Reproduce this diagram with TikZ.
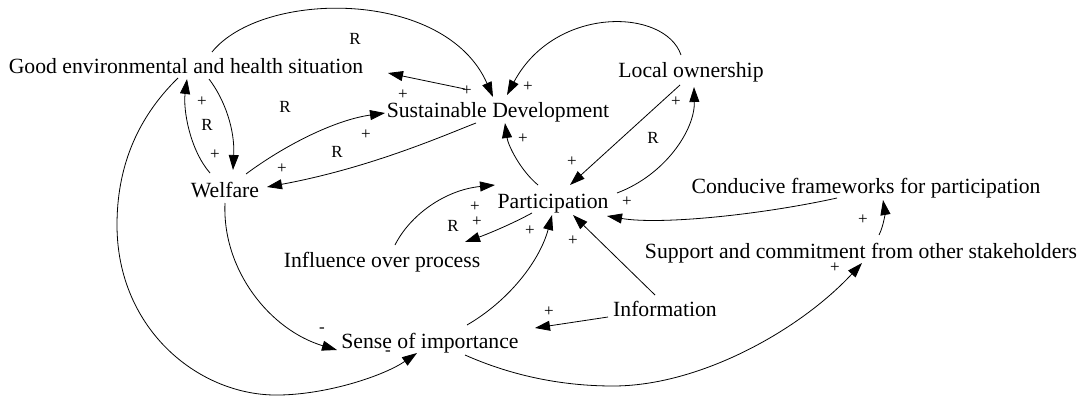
\documentclass[tikz,border=0pt]{standalone}
\usepackage{fontspec}
\setmainfont{Liberation Serif}
\newfontfamily\tnr{Liberation Serif}
\usetikzlibrary{arrows.meta,calc}
\begin{document}
\begin{tikzpicture}[x=1pt,y=-1pt,
  var/.style={anchor=base,inner sep=0pt,font=\tnr\fontsize{21.7}{26}\selectfont},
  pol/.style={inner sep=0pt,font=\tnr\fontsize{17}{20}\selectfont},
  link/.style={line width=0.8pt,-{Triangle[length=15pt,width=10pt]}}]
\useasboundingbox (0,0) rectangle (1082,399);
% variables
\node[var] (good) at (186,73) {Good environmental and health situation};
\node[var] (sd) at (498,117) {Sustainable Development};
\node[var] (lo) at (691,77) {Local ownership};
\node[var] (wel) at (225,197) {Welfare};
\node[var] (par) at (553,208) {Participation};
\node[var] (cond) at (866,193) {Conducive frameworks for participation};
\node[var] (sup) at (861,258) {Support and commitment from other stakeholders};
\node[var] (inf) at (382,267) {Influence over process};
\node[var] (info) at (665,316) {Information};
\node[var] (sen) at (430,348) {Sense of importance};
% links
\draw[link] ($(good.base)+(26,-21)$) .. controls +(50,-62) and +(-48,-109) .. ($(sd.base)+(-5,-20)$);
\draw[link] ($(sd.base)+(-33,-28)$) -- ($(good.base)+(202,0)$);
\draw[link] ($(lo.base)+(-10,-22)$) .. controls +(-16,-47) and +(48,-90) .. ($(sd.base)+(9,-22)$);
\draw[link] ($(lo.base)+(-11,8)$) -- ($(par.base)+(17,-23)$);
\draw[link] ($(par.base)+(64,-15)$) .. controls +(48,-18) and +(1,43) .. ($(lo.base)+(3,10)$);
\draw[link] ($(par.base)+(-15,-23)$) .. controls +(-18,-15) and +(3,22) .. ($(sd.base)+(7,6)$);
\draw[link] ($(wel.base)+(21,-23)$) .. controls +(39,-29) and +(-50,7) .. ($(sd.base)+(-113,-4)$);
\draw[link] ($(sd.base)+(-22,6)$) .. controls +(-31,12) and +(103,-19) .. ($(wel.base)+(42,-10)$);
\draw[link] ($(good.base)+(23,6)$) .. controls +(16,21) and +(2,-40) .. ($(wel.base)+(8,-27)$);
\draw[link] ($(wel.base)+(-15,-24)$) .. controls +(-20,-23) and +(-4,31) .. ($(good.base)+(1,6)$);
\draw[link] ($(good.base)+(-8,5)$) .. controls (135,120) and (117,170) .. (117,225)
  .. controls (117,330) and (200,397) .. (280,395)
  .. controls (330,394) and (385,375) .. ($(sen.base)+(-13,5)$);
\draw[link] ($(wel.base)+(0,6)$) .. controls +(-3,67) and +(-67,-20) .. ($(sen.base)+(-93,2)$);
\draw[link] ($(sen.base)+(37,-23)$) .. controls +(43,-25) and +(-12,45) .. ($(par.base)+(-1,7)$);
\draw[link] ($(par.base)+(-21,5)$) .. controls +(-22,12) and +(20,-7) .. ($(inf.base)+(83,-25)$);
\draw[link] ($(inf.base)+(13,-22)$) .. controls +(15,-30) and +(-50,5) .. ($(par.base)+(-58,-23)$);
\draw[link] ($(info.base)+(-10,-21)$) -- ($(par.base)+(20,7)$);
\draw[link] ($(info.base)+(-57,1)$) -- ($(sen.base)+(105,-20)$);
\draw[link] ($(sen.base)+(35,7)$) .. controls (510,375) and (560,386) .. (613,386)
  .. controls (700,386) and (800,330) .. ($(sup.base)+(1,5)$);
\draw[link] ($(sup.base)+(18,-23)$) .. controls +(5,-10) and +(2,12) .. ($(cond.base)+(17,7)$);
\draw[link] ($(cond.base)+(-29,5)$) .. controls +(-77,17) and +(53,9) .. ($(par.base)+(54,8)$);
% polarities and loop labels
\node[pol] (r1) at (355,39) {R};
\node[pol] (r2) at (285,107) {R};
\node[pol] (r3) at (207,125) {R};
\node[pol] (r4) at (337,152) {R};
\node[pol] (r5) at (653,138) {R};
\node[pol] (r6) at (453,226) {R};
\node[pol] (p1) at (202,102) {+};
\node[pol] (p2) at (215,155) {+};
\node[pol] (p3) at (282,169) {+};
\node[pol] (p4) at (366,135) {+};
\node[pol] (p5) at (403,95) {+};
\node[pol] (p6) at (467,91) {+};
\node[pol] (p7) at (528,87) {+};
\node[pol] (p8) at (523,139) {+};
\node[pol] (p9) at (572,162) {+};
\node[pol] (p10) at (676,102) {+};
\node[pol] (p11) at (627,202) {+};
\node[pol] (p12) at (863,220) {+};
\node[pol] (p13) at (835,268) {+};
\node[pol] (p14) at (475,207) {+};
\node[pol] (p15) at (477,222) {+};
\node[pol] (p16) at (530,231) {+};
\node[pol] (p17) at (573,241) {+};
\node[pol] (p18) at (549,312) {+};
\node[pol] (m1) at (322,330) {-};
\node[pol] (m2) at (388,353) {-};
\end{tikzpicture}
\end{document}
